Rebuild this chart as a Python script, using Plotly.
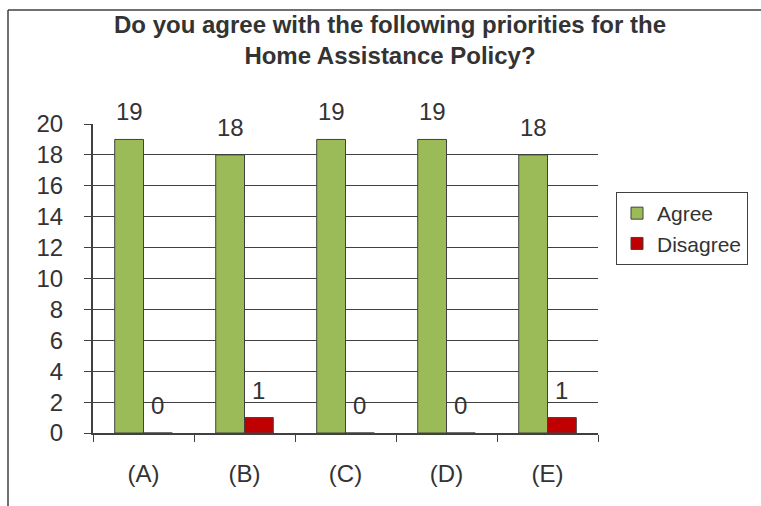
import plotly.graph_objects as go

categories = ["(A)", "(B)", "(C)", "(D)", "(E)"]
agree = [19, 18, 19, 19, 18]
disagree = [0, 1, 0, 0, 1]

FONT = "Liberation Sans, Arial, sans-serif"
TXT = "#333333"
LINE = "#404040"

fig = go.Figure()
fig.add_trace(go.Bar(
    name="Agree", x=categories, y=agree,
    marker=dict(color="#9BBB59", line=dict(color=LINE, width=1)),
))
fig.add_trace(go.Bar(
    name="Disagree", x=categories, y=disagree,
    marker=dict(color="#C00000", line=dict(color=LINE, width=1)),
))

# plot area in pixels: left 93, right 598, top 124, bottom 433
L, R, T, B = 93, 598, 124, 433
W, H = 761, 506
pw, ph = R - L, B - T
BARGAP = 0.43
# horizontal offset of each bar centre from its category centre, in pixels
half = (1 - BARGAP) / 4 * pw / len(categories)

def px_x(x):
    return (x - L) / pw

def px_y(y):
    return (B - y) / ph

# value labels above each bar
annotations = []
for series, shift in ((agree, -half), (disagree, half)):
    for cat, v in zip(categories, series):
        annotations.append(dict(
            x=cat, y=v, xref="x", yref="y", text=str(v), showarrow=False,
            xanchor="center", yanchor="bottom", xshift=shift, yshift=12,
            font=dict(size=24, color=TXT, family=FONT),
        ))

fig.update_layout(
    width=W, height=H,
    margin=dict(l=L, r=W - R, t=T, b=H - B, pad=0),
    paper_bgcolor="white", plot_bgcolor="white",
    font=dict(family=FONT, color=TXT, size=22),
    title=dict(
        text="<b>Do you agree with the following priorities for the<br>Home Assistance Policy?</b>",
        x=390 / W, xanchor="center", y=1 - 33 / H, yanchor="top",
        font=dict(size=24, color=TXT, family=FONT),
    ),
    barmode="group", bargap=BARGAP, bargroupgap=0,
    showlegend=True,
    legend=dict(
        x=px_x(616), y=px_y(192), xanchor="left", yanchor="top",
        bordercolor=LINE, borderwidth=1, bgcolor="white",
        font=dict(size=21, color=TXT, family=FONT),
        tracegroupgap=0, itemwidth=30,
    ),
    xaxis=dict(
        type="category", tickson="boundaries", ticks="outside", ticklen=7,
        tickcolor=LINE, showline=True, linecolor=LINE, linewidth=2,
        showgrid=False, ticklabelstandoff=18,
        tickfont=dict(size=24, color=TXT, family=FONT),
    ),
    yaxis=dict(
        range=[0, 20], dtick=2, tick0=0, ticks="outside", ticklen=7,
        tickcolor=LINE, showline=True, linecolor=LINE, linewidth=2,
        showgrid=True, gridcolor=LINE, gridwidth=1, zeroline=False,
        ticklabelstandoff=16,
        tickfont=dict(size=24, color=TXT, family=FONT),
    ),
    annotations=annotations,
    shapes=[
        dict(type="line", xref="paper", yref="paper",
             x0=px_x(8), y0=px_y(10), x1=px_x(W + 5), y1=px_y(10),
             line=dict(color=LINE, width=1.5)),
        dict(type="line", xref="paper", yref="paper",
             x0=px_x(8), y0=px_y(10), x1=px_x(8), y1=px_y(H + 5),
             line=dict(color=LINE, width=1.5)),
    ],
)

fig.write_html("out.html")
